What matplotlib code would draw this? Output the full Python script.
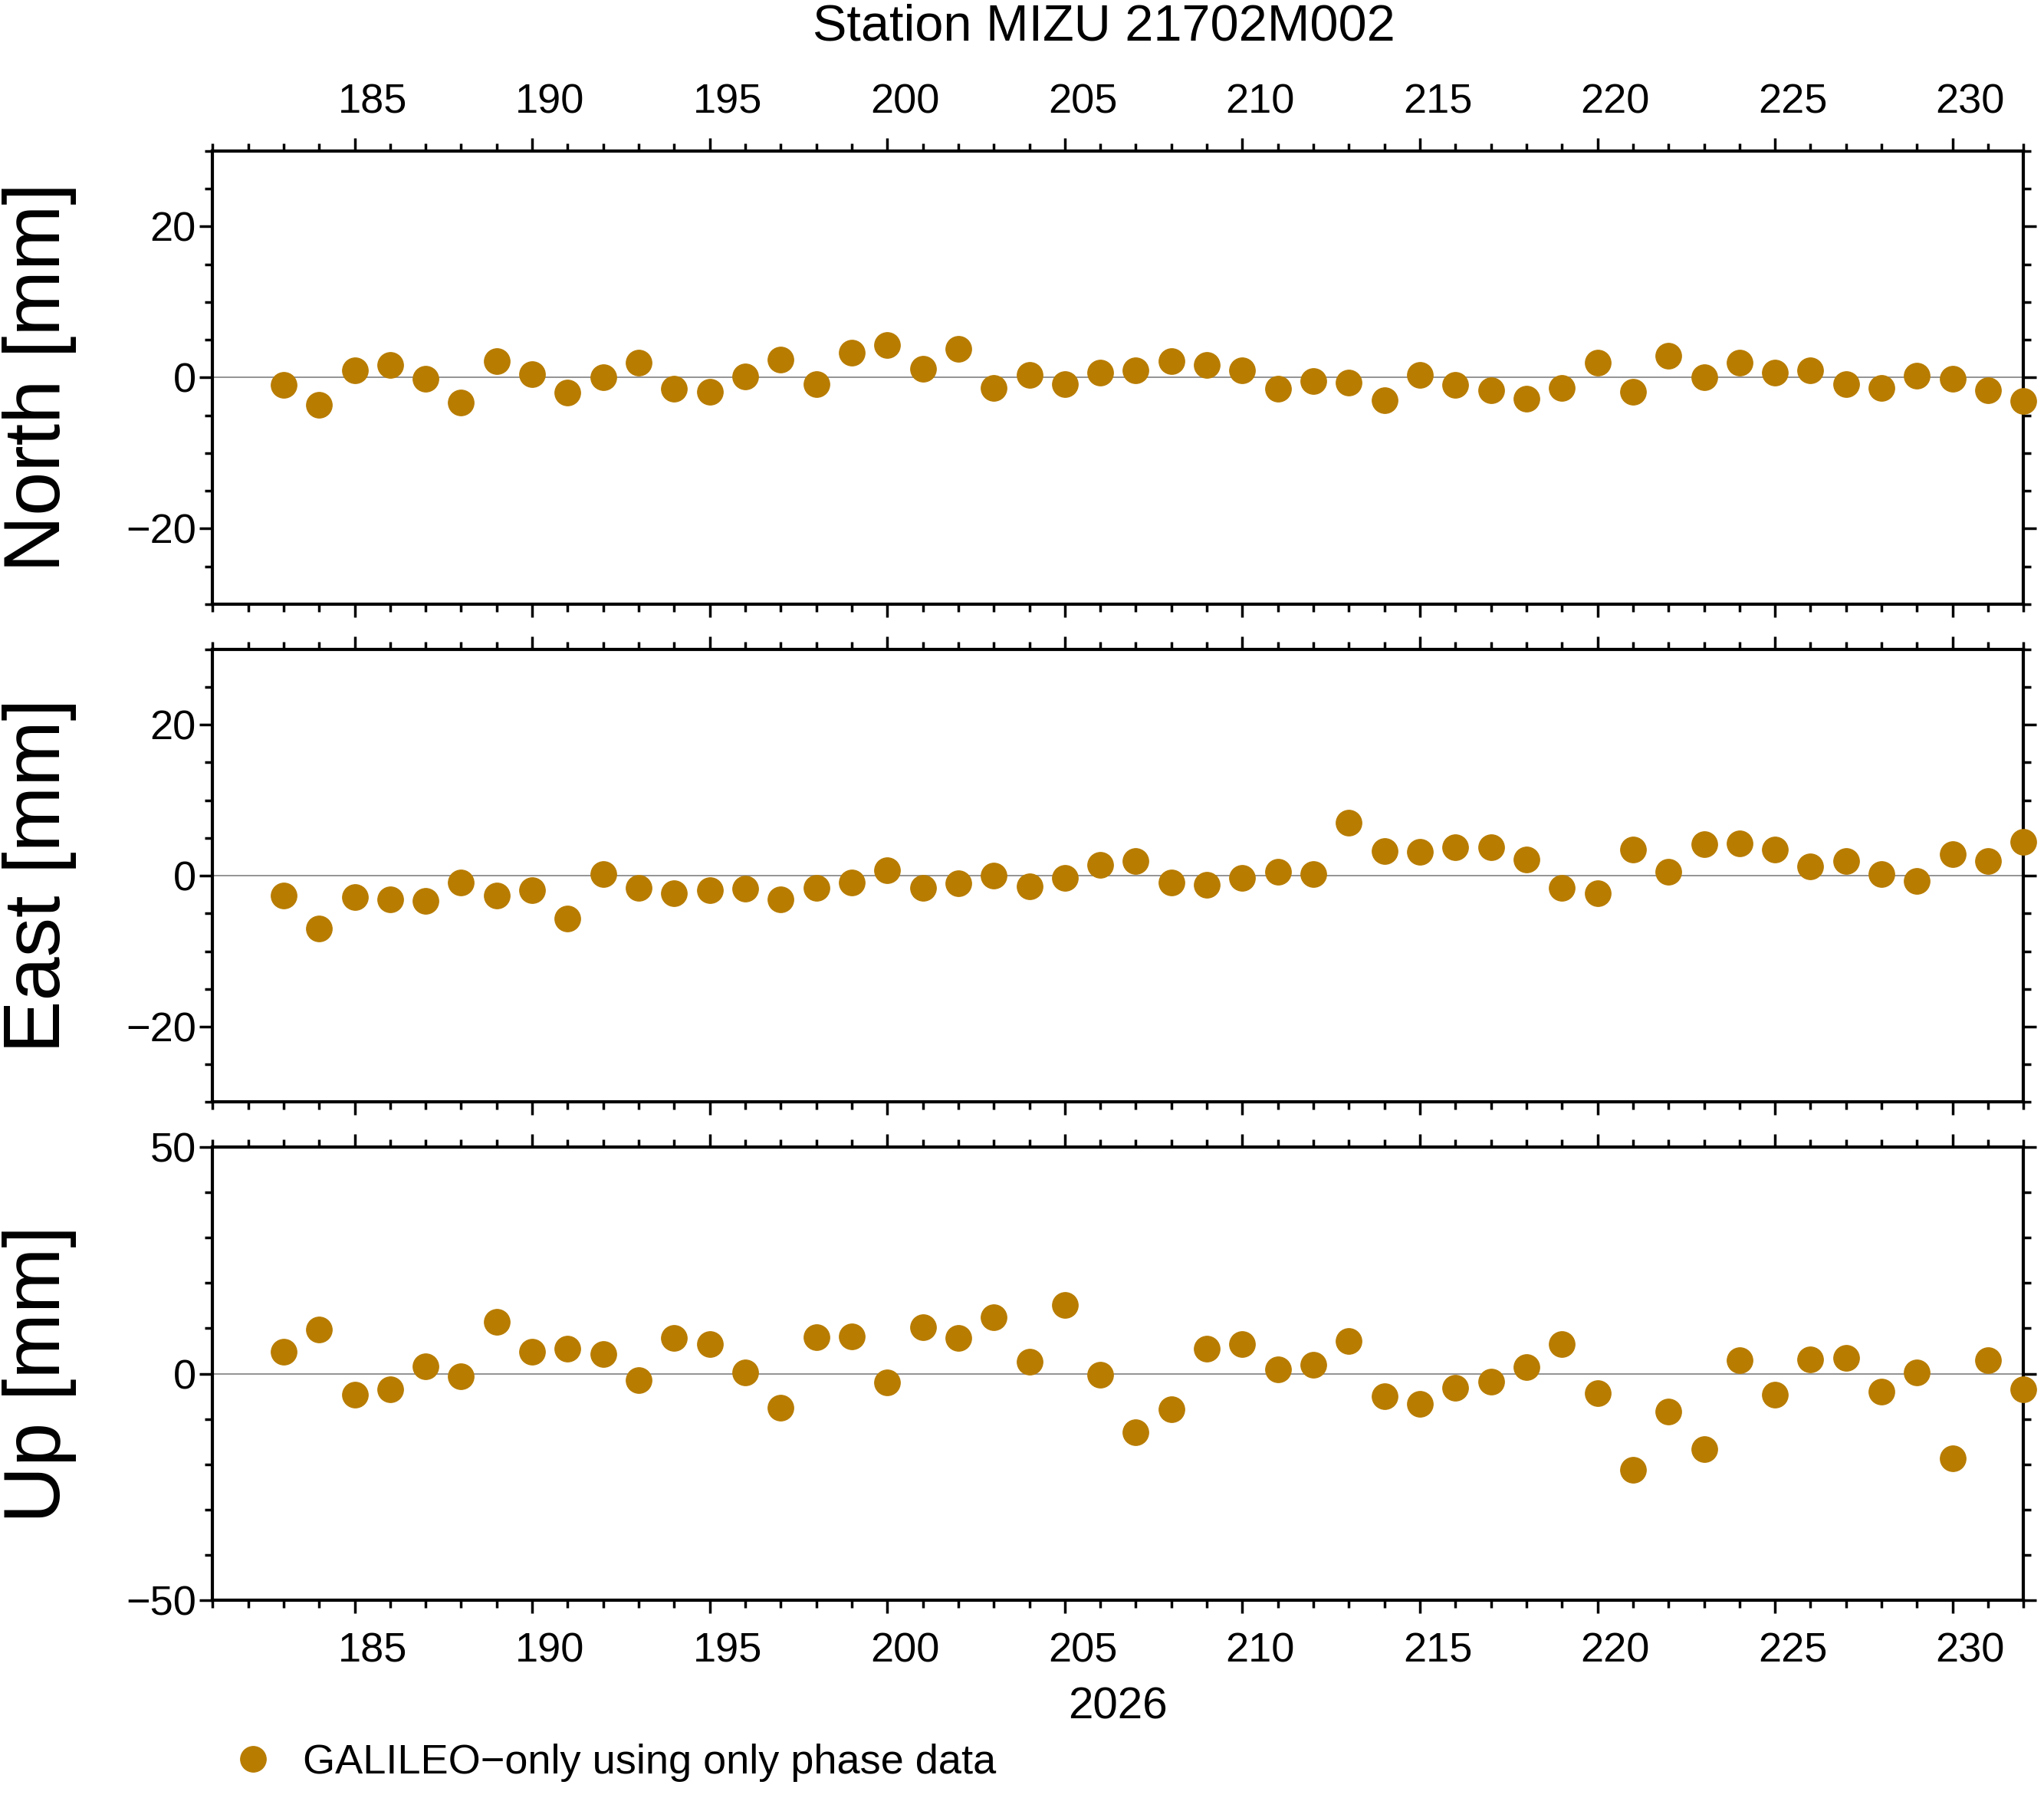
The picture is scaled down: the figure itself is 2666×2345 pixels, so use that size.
import numpy as np
import matplotlib.pyplot as plt
from matplotlib.lines import Line2D
from matplotlib.ticker import MultipleLocator
import matplotlib.transforms as mtrans

plt.rcParams['font.family'] = ['Liberation Sans', 'DejaVu Sans']

days = np.arange(183, 233)
north = [-1, -3.6, 1, 1.7, -0.2, -3.3, 2.2, 0.5, -2, 0, 2, -1.5, -1.9, 0.1, 2.4, -0.9, 3.3, 4.3, 1.2, 3.8,
         -1.4, 0.3, -0.9, 0.7, 1, 2.2, 1.7, 1, -1.5, -0.5, -0.7, -3, 0.3, -1, -1.7, -2.8, -1.4, 2, -1.9, 2.9,
         0, 2, 0.7, 1, -0.9, -1.4, 0.2, -0.2, -1.7, -3.1]
east = [-2.6, -7, -2.8, -3.1, -3.3, -0.9, -2.6, -1.9, -5.7, 0.2, -1.6, -2.3, -1.9, -1.7, -3.1, -1.6, -0.9, 0.7, -1.6, -1,
        0, -1.4, -0.3, 1.4, 1.9, -0.9, -1.2, -0.3, 0.5, 0.2, 7, 3.3, 3.1, 3.8, 3.8, 2.1, -1.6, -2.3, 3.5, 0.5,
        4.2, 4.3, 3.5, 1.2, 1.9, 0.2, -0.7, 2.8, 1.9, 4.5]
up = [4.9, 9.8, -4.6, -3.4, 1.7, -0.6, 11.5, 4.9, 5.5, 4.3, -1.4, 7.8, 6.6, 0.3, -7.5, 8, 8.3, -2, 10.3, 7.8,
      12.4, 2.6, 15.2, -0.3, -12.9, -7.8, 5.5, 6.6, 0.9, 2, 7.2, -4.9, -6.6, -3.2, -1.7, 1.4, 6.6, -4.3, -21.3, -8.3,
      -16.7, 2.9, -4.6, 3.2, 3.4, -4, 0.3, -18.7, 2.9, -3.4]
label_days = [185, 190, 195, 200, 205, 210, 215, 220, 225, 230]
color = '#b87c00'

fig = plt.figure(figsize=(26.66, 23.45), dpi=100)
panels = [("North [mm]", north, 30, 20, 5, 0.664),
          ("East [mm]", east, 30, 20, 5, 0.387),
          ("Up [mm]", up, 50, 50, 10, 0.110)]

for i, (name, vals, lim, major, minor, bottom) in enumerate(panels):
    ax = fig.add_axes([0.104, bottom, 0.886, 0.252])
    ax.axhline(0, color='gray', lw=1.2, zorder=1)
    ax.plot(days, vals, 'o', color=color, ms=24, zorder=3, clip_on=False)
    ax.set_xlim(181, 232)
    ax.set_ylim(-lim, lim)
    ax.xaxis.set_major_locator(MultipleLocator(5))
    ax.xaxis.set_minor_locator(MultipleLocator(1))
    ax.yaxis.set_major_locator(MultipleLocator(major))
    ax.yaxis.set_minor_locator(MultipleLocator(minor))
    ax.tick_params(which='both', direction='out', top=True, right=True, width=2.5)
    ax.tick_params(which='major', length=12, labelsize=39)
    ax.tick_params(which='minor', length=7)
    ax.tick_params(axis='x', labelbottom=False, labeltop=False)
    for s in ax.spines.values():
        s.set_linewidth(3)
    ax.set_ylabel(name, fontsize=74, labelpad=20)
    ax.yaxis.set_label_coords(-0.075, 0.5)
    tr = mtrans.blended_transform_factory(ax.transData, ax.transAxes)
    if i == 0:
        for d in label_days:
            ax.text(d + 0.5, 1.065, str(d), transform=tr, ha='center', va='bottom', fontsize=39)
    if i == 2:
        for d in label_days:
            ax.text(d + 0.5, -0.07, str(d), transform=tr, ha='center', va='top', fontsize=39)
        ax.text(0.5, -0.19, "2026", transform=ax.transAxes, ha='center', va='top', fontsize=42)

fig.text(0.54, 0.998, "Station MIZU 21702M002", ha='center', va='top', fontsize=48)
handle = Line2D([], [], marker='o', ls='', color=color, ms=24)
fig.legend([handle], ["GALILEO\u2212only using only phase data"], loc='lower left',
           bbox_to_anchor=(0.085, -0.012), frameon=False, fontsize=39, handletextpad=0.2)

fig.savefig("out.png", dpi=100)
